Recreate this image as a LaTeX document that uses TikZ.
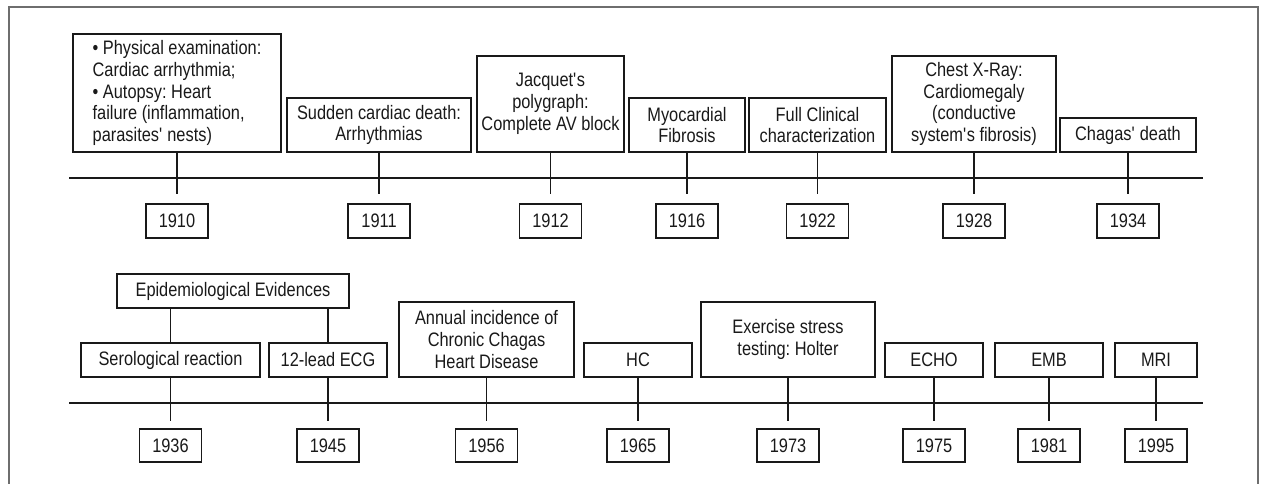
\documentclass[tikz,border=0pt]{standalone}
\usepackage{fontspec}
\setmainfont{Liberation Sans}[FakeStretch=0.84]
\definecolor{ink}{RGB}{25,25,25}
\definecolor{framegray}{RGB}{110,110,110}
\newcommand{\sq}{\textquotesingle}
\tikzset{
  evbox/.style={draw=ink, line width=1.8pt, inner sep=0pt, align=center, text=ink,
    font=\fontsize{19.5}{21.7}\selectfont},
  yearbox/.style={draw=ink, line width=1.8pt, minimum width=62pt, minimum height=34pt,
    inner sep=0pt, text=ink, font=\fontsize{19.5}{22}\selectfont},
  tline/.style={draw=ink, line width=1.4pt},
  tick/.style={draw=ink, line width=1.6pt},
}
\frenchspacing
\begin{document}
\begin{tikzpicture}[x=1pt,y=-1pt]
    \useasboundingbox (0,0) rectangle (1269,484);

    % outer frame (its bottom edge lies below the page)
    \draw[framegray, line width=1.1pt] (9,495) -- (9,7) -- (1258,7) -- (1258,495);

    % rows of the two time lines
    \coordinate (tlTopL) at (69,178);
    \coordinate (tlTopR) at (1203,178);
    \coordinate (tlBotL) at (69,403);
    \coordinate (tlBotR) at (1203,403);
    \coordinate (yrowA) at (0,221);
    \coordinate (yrowB) at (0,445.5);

    \draw[tline] (tlTopL) -- (tlTopR);
    \draw[tline] (tlBotL) -- (tlBotR);

    % upper row of events
    \node[evbox, align=left, minimum width=208pt, minimum height=118pt]
      (e1910) at (177,93) {• Physical examination:\\Cardiac arrhythmia;\\• Autopsy: Heart\\failure (inflammation,\\parasites\sq{} nests)};
    \node[evbox, minimum width=184pt, minimum height=54pt] (e1911) at (379,125)
      {Sudden cardiac death:\\Arrhythmias};
    \node[evbox, minimum width=147pt, minimum height=96pt] (e1912) at (550.5,104)
      {Jacquet\sq{}s\\polygraph:\\Complete AV block};
    \node[evbox, minimum width=116pt, minimum height=54pt] (e1916) at (687,125)
      {Myocardial\\Fibrosis};
    \node[evbox, minimum width=137pt, minimum height=54pt] (e1922) at (817.5,125)
      {Full Clinical\\characterization};
    \node[evbox, minimum width=164pt, minimum height=96pt] (e1928) at (974,104)
      {Chest X-Ray:\\Cardiomegaly\\(conductive\\system\sq{}s fibrosis)};
    \node[evbox, minimum width=136pt, minimum height=34pt] (e1934) at (1128,135)
      {Chagas\sq{} death};

    % lower row of events
    \node[evbox, minimum width=232pt, minimum height=34pt] (epi) at (233,291)
      {Epidemiological Evidences};
    \node[evbox, minimum width=179pt, minimum height=34pt] (e1936) at (170.5,360)
      {Serological reaction};
    \node[evbox, minimum width=118pt, minimum height=34pt] (e1945) at (328,360)
      {12-lead ECG};
    \node[evbox, minimum width=175pt, minimum height=75pt] (e1956) at (486.5,339.5)
      {Annual incidence of\\Chronic Chagas\\Heart Disease};
    \node[evbox, minimum width=108pt, minimum height=34pt] (e1965) at (638,360) {HC};
    \node[evbox, minimum width=174pt, minimum height=75pt] (e1973) at (788,339.5)
      {Exercise stress\\testing: Holter};
    \node[evbox, minimum width=98pt, minimum height=34pt] (e1975) at (934,360) {ECHO};
    \node[evbox, minimum width=108pt, minimum height=34pt] (e1981) at (1049,360) {EMB};
    \node[evbox, minimum width=82pt, minimum height=34pt] (e1995) at (1156,360) {MRI};

    % epidemiological evidences joins two events
    \draw[tick] (epi.south -| e1936.north) -- (e1936.north);
    \draw[tick] (epi.south -| e1945.north) -- (e1945.north);

    % year boxes and ticks
    \foreach \yr in {1910,1911,1912,1916,1922,1928,1934} {
      \node[yearbox] (y\yr) at (e\yr.south |- yrowA) {\yr};
      \draw[tick] (e\yr.south) -- ([yshift=9pt]y\yr.north);
    }
    \foreach \yr in {1936,1945,1956,1965,1973,1975,1981,1995} {
      \node[yearbox, minimum height=33pt] (y\yr) at (e\yr.south |- yrowB) {\yr};
      \draw[tick] (e\yr.south) -- ([yshift=7pt]y\yr.north);
    }

\end{tikzpicture}
\end{document}
